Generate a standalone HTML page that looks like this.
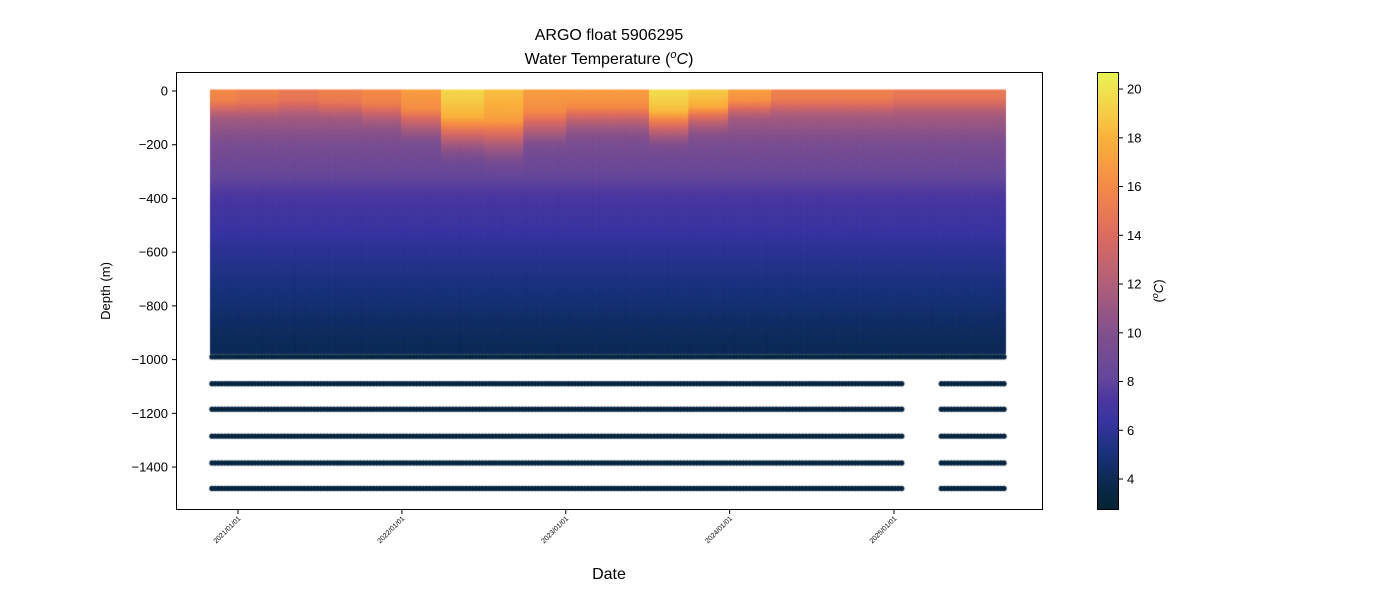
<!DOCTYPE html>
<html><head><meta charset="utf-8"><style>
body{margin:0;background:#fff;width:1400px;height:600px;overflow:hidden;position:relative;font-family:"Liberation Sans","DejaVu Sans",sans-serif}
canvas{position:absolute}
svg{position:absolute;left:0;top:0}
</style></head><body>
<canvas id="plot" width="867" height="438" style="left:176px;top:72px"></canvas>
<canvas id="cbar" width="22" height="438" style="left:1097px;top:72px"></canvas>
<svg id="ov" width="1400" height="600">
<text x="609" y="40" font-size="16" text-anchor="middle">ARGO float 5906295</text>
<text x="609" y="64" font-size="16" text-anchor="middle">Water Temperature (<tspan font-style="italic"><tspan baseline-shift="super" font-size="11">o</tspan>C</tspan>)</text>
<rect x="176.5" y="72.5" width="866" height="437" fill="none" stroke="#000" stroke-width="1"/>
<rect x="1097.5" y="72.5" width="21" height="437" fill="none" stroke="#000" stroke-width="1"/>
<text x="609" y="579" font-size="16" text-anchor="middle">Date</text>
<text transform="translate(110,291) rotate(-90)" font-size="13" text-anchor="middle">Depth (m)</text>
<text transform="translate(1163,291) rotate(-90)" font-size="13" text-anchor="middle">(<tspan font-style="italic"><tspan baseline-shift="super" font-size="9">o</tspan>C</tspan>)</text>
<g id="g"></g>
</svg>
<script>
const yTicks=[0,-200,-400,-600,-800,-1000,-1200,-1400];
const xTickLabels=["2021/01/01","2022/01/01","2023/01/01","2024/01/01","2025/01/01"];
const cbTicks=[4,6,8,10,12,14,16,18,20];
const baseDepths=[0,50,100,200,300,400,500,600,700,800,900,975];
const baseTemps=[14,13,11.5,9.6,8.5,7.2,6.6,5.9,5.3,4.8,4.3,4.0];
// quarterly surface temperature and mixed layer depth, 2020Q4..2025Q4
const qSurf=[16,15.5,15,15.5,16,17,19.5,18.5,17,17,17,19.8,19,17,15.5,15.5,15.5,15,15,15,15];
const qMld=[40,40,35,40,50,70,100,110,80,60,60,80,60,40,35,35,35,30,30,30,30];
const deepLevels=[-990,-1090,-1185,-1285,-1385,-1480];
const startDate="2020-11-04",endDate="2025-09-06",cycleDays=7.35;
const gapStart="2025-01-25",gapEnd="2025-04-10";
const cmapStops=[[0,[4,35,51]],[0.07,[12,42,85]],[0.13,[25,50,125]],[0.2,[55,52,160]],[0.25,[75,55,160]],[0.3,[100,70,155]],[0.4,[128,80,142]],[0.52,[178,95,120]],[0.63,[222,108,95]],[0.74,[245,138,70]],[0.85,[250,178,60]],[0.96,[240,228,80]],[1,[232,245,85]]];
const vmin=2.77,vmax=20.7;
function cmap(v){let t=Math.max(0,Math.min(1,(v-vmin)/(vmax-vmin)));for(let i=1;i<cmapStops.length;i++){if(t<=cmapStops[i][0]){const a=cmapStops[i-1],b=cmapStops[i],f=(t-a[0])/(b[0]-a[0]);return`rgb(${a[1].map((c,k)=>Math.round(c+(b[1][k]-c)*f)).join(',')})`}}return'rgb(232,245,85)'}
const X0=176,Y0=72;
const t2021=Date.parse("2021-01-01");
function xs(ms){return 238+(ms-t2021)/(365.25*864e5)*164;}
function ys(d){return 91+(-d)*0.2686;}
function interp(xa,ya,x){for(let i=1;i<xa.length;i++)if(x<=xa[i]){const f=(x-xa[i-1])/(xa[i]-xa[i-1]);return ya[i-1]+(ya[i]-ya[i-1])*f}return ya[ya.length-1]}
const ctx=document.getElementById('plot').getContext('2d');
const s0=Date.parse(startDate),e0=Date.parse(endDate),g0=Date.parse(gapStart),g1=Date.parse(gapEnd);
const qStart=Date.parse("2020-10-01");
for(let t=s0;t<=e0;t+=cycleDays*864e5){
  const q=Math.min(qSurf.length-1,Math.floor((t-qStart)/(91.3*864e5)));
  const surf=qSurf[q],mld=qMld[q];
  const x=xs(t)-X0;
  for(let d=0;d<=975;d+=4){
    let v=interp(baseDepths,baseTemps,d);
    if(d<mld)v=surf-(surf-v)*0.2*(d/mld);
    else if(d<mld*3){const f=(d-mld)/(mld*2);v=v+(surf-v)*0.8*(1-f)*(1-f);}
    ctx.fillStyle=cmap(v);ctx.fillRect(x-1.8,ys(-d)-Y0-1.5,3.6,4);
  }
  const inGap=t>g0&&t<g1;
  deepLevels.forEach((lv,i)=>{
    if(inGap&&i>0)return;
    ctx.fillStyle=cmap(i==0?3.4:3.2);ctx.beginPath();ctx.arc(x,ys(lv)-Y0,2.7,0,6.3);ctx.fill();
  });
}
const cb=document.getElementById('cbar').getContext('2d');
for(let y=0;y<438;y++){cb.fillStyle=cmap(vmax-(vmax-vmin)*y/437);cb.fillRect(0,y,22,1);}
const g=document.getElementById('g'),NS="http://www.w3.org/2000/svg";
function mk(tag,attrs,txt){const e=document.createElementNS(NS,tag);for(const k in attrs)e.setAttribute(k,attrs[k]);if(txt!=null)e.textContent=txt;g.appendChild(e);return e;}
yTicks.forEach(v=>{const y=ys(v);
  const l=mk('line',{x1:172,x2:176,y1:y,y2:y,stroke:'#000'});
  
  
  const t=mk('text',{x:168,y:y+4.5,'font-size':13,'text-anchor':'end'},v<0?'\u2212'+(-v):String(v));
  
  
});
xTickLabels.forEach(s=>{const x=xs(Date.parse(s.replace(/\//g,'-')));
  const l=mk('line',{x1:x,x2:x,y1:510,y2:514,stroke:'#000'});
  
  
  const t=mk('text',{transform:`translate(${x+3},${519}) rotate(-45)`,'font-size':7,'text-anchor':'end'},s);
  
  
});
cbTicks.forEach(v=>{const y=72+(vmax-v)/(vmax-vmin)*437;
  const l=mk('line',{x1:1119,x2:1123,y1:y,y2:y,stroke:'#000'});
  
  
  const t=mk('text',{x:1127,y:y+4.5,'font-size':13},String(v));
  
  
});
</script>
</body></html>
